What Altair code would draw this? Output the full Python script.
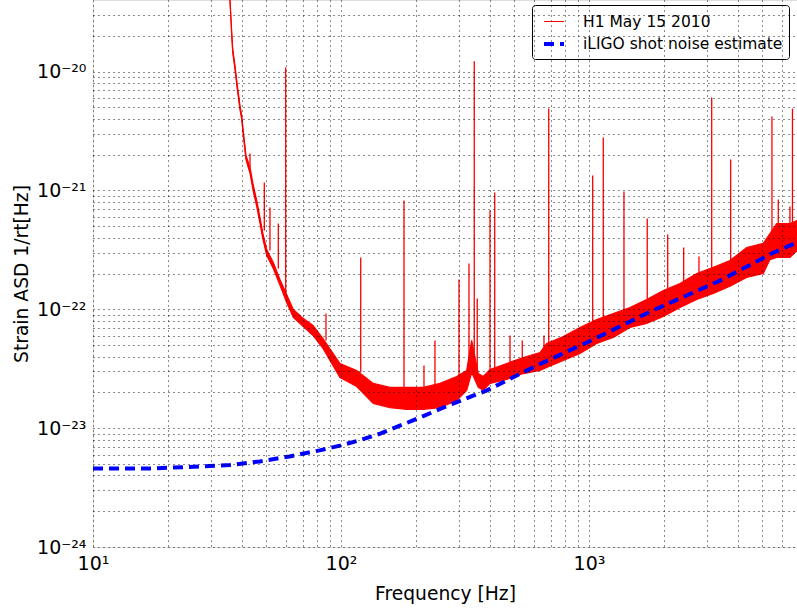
import altair as alt
import pandas as pd

FONT = "DejaVu Sans"

# ---- H1 strain ASD band: frequency [Hz], lower / upper edge
h1_freq = [35.35, 35.68, 36.25, 36.59, 37.38, 38.19, 39.15, 39.78, 40.37, 41.39,
           42.97, 44.31, 45.73, 47.15, 48.35, 50.17, 53.33, 56.75, 60.39, 64.22,
           70.47, 77.13, 84.61, 99.08, 115.7, 134.9, 157.6, 184.1, 214.7, 250.7,
           292.8, 321.3, 336.5, 357.8, 374.8, 398.9, 465.7, 543.5, 634.6, 675.2,
           787.8, 919.8, 1074, 1253, 1463, 1709, 1994, 2328, 2719, 3171,
           3703, 4324, 5044, 5368, 5713, 6464, 6900]
h1_high = [4.90e-20, 4.04e-20, 2.17e-20, 1.561e-20, 1.123e-20, 7.63e-21, 5.18e-21, 4.27e-21, 3.13e-21, 1.97e-21,
           1.56e-21, 1.10e-21, 8.23e-22, 5.92e-22, 4.42e-22, 3.18e-22, 2.48e-22, 1.78e-22, 1.33e-22, 9.96e-23,
           8.37e-23, 7.31e-23, 5.68e-23, 3.50e-23, 3.06e-23, 2.38e-23, 2.20e-23, 2.20e-23, 2.20e-23, 2.38e-23,
           2.72e-23, 3.06e-23, 5.47e-23, 2.88e-23, 2.72e-23, 3.12e-23, 3.50e-23, 3.93e-23, 4.33e-23, 5.16e-23,
           5.90e-23, 7.03e-23, 8.21e-23, 9.22e-23, 1.035e-22, 1.21e-22, 1.44e-22, 1.65e-22, 2.00e-22, 2.25e-22,
           2.57e-22, 3.31e-22, 3.58e-22, 4.34e-22, 5.27e-22, 5.27e-22, 5.58e-22]
h1_low = [4.71e-20, 3.88e-20, 2.01e-20, 1.445e-20, 1.039e-20, 7.06e-21, 4.79e-21, 3.95e-21, 2.90e-21, 1.82e-21,
          1.39e-21, 9.79e-22, 7.32e-22, 5.27e-22, 3.94e-22, 2.83e-22, 2.20e-22, 1.59e-22, 1.14e-22, 8.53e-23,
          7.17e-23, 6.02e-23, 4.68e-23, 2.67e-23, 2.24e-23, 1.61e-23, 1.49e-23, 1.44e-23, 1.44e-23, 1.49e-23,
          1.71e-23, 2.08e-23, 2.94e-23, 2.20e-23, 2.08e-23, 2.38e-23, 2.57e-23, 2.88e-23, 3.06e-23, 3.24e-23,
          3.71e-23, 4.25e-23, 5.16e-23, 5.79e-23, 7.03e-23, 7.60e-23, 8.70e-23, 1.035e-22, 1.21e-22, 1.36e-22,
          1.56e-22, 1.85e-22, 2.00e-22, 2.62e-22, 2.73e-22, 2.73e-22, 3.12e-22]

# ---- narrow spectral lines: frequency [Hz], base level, peak level
line_freq = [42.97, 49.07, 51.72, 55.88, 59.84, 87.0, 120.1, 179.5, 216.1, 239.3,
             299.1, 328.2, 344.7, 354.4, 398.9, 416.8, 480.3, 538.3, 658.5, 688.2,
             1035, 1142, 1384, 1718, 2077, 2409, 2777, 3125, 3727, 5469,
             5798, 6464, 6616]
line_base = [1.56e-21, 4.60e-22, 3.12e-22, 2.20e-22, 1.33e-22, 5.47e-23, 2.94e-23, 2.16e-23, 2.16e-23, 2.29e-23,
             2.62e-23, 2.94e-23, 2.94e-23, 2.77e-23, 2.94e-23, 2.94e-23, 3.37e-23, 3.71e-23, 4.50e-23, 4.50e-23,
             7.31e-23, 8.05e-23, 9.77e-23, 1.19e-22, 1.44e-22, 1.65e-22, 1.92e-22, 2.20e-22, 2.48e-22, 4.18e-22,
             5.07e-22, 5.07e-22, 5.07e-22]
line_peak = [2.04e-21, 1.165e-21, 7.18e-22, 5.27e-22, 1.08e-20, 9.22e-23, 2.73e-22, 8.23e-22, 3.37e-23, 5.47e-23,
             1.78e-22, 2.43e-22, 1.22e-20, 1.23e-22, 6.78e-22, 9.60e-22, 6.02e-23, 5.47e-23, 6.02e-23, 4.88e-21,
             1.335e-21, 2.79e-21, 9.79e-22, 5.80e-22, 4.26e-22, 3.31e-22, 2.78e-22, 6.04e-21, 1.82e-21, 4.18e-21,
             8.38e-22, 7.32e-22, 4.88e-21]

# ---- iLIGO shot noise estimate
shot_freq = [10, 17, 27, 35.7, 47, 62, 82, 100, 119, 144, 195, 283, 388, 617, 981, 1810, 3390, 5550, 6900]
shot_asd = [4.58e-24, 4.58e-24, 4.76e-24, 4.9e-24, 5.25e-24, 5.78e-24, 6.5e-24, 7.16e-24, 7.9e-24, 9.0e-24,
            1.16e-23, 1.61e-23, 2.08e-23, 3.37e-23, 5.26e-23, 9.77e-23, 1.75e-22, 3.0e-22, 3.65e-22]

series_names = ["H1 May 15 2010", "iLIGO shot noise estimate"]

# ---- axes ticks (grid at every minor tick, labels at decades)
x_ticks = [10, 20, 30, 40, 50, 60, 70, 80, 90, 100, 200, 300, 400, 500, 600, 700, 800, 900,
           1000, 2000, 3000, 4000, 5000, 6000]
y_ticks = [m * 1e-24 for m in range(1, 10)] + [m * 1e-23 for m in range(1, 10)] + \
          [m * 1e-22 for m in range(1, 10)] + [m * 1e-21 for m in range(1, 10)] + \
          [1e-20, 2e-20, 3e-20]
x_labels = {10: "10¹", 100: "10²", 1000: "10³"}
y_labels = {-24: "10⁻²⁴", -23: "10⁻²³", -22: "10⁻²²", -21: "10⁻²¹", -20: "10⁻²⁰"}

x_expr = " : ".join(f"datum.value == {k} ? '{v}'" for k, v in x_labels.items()) + " : ''"
y_expr = " : ".join(f"round(log(datum.value) / LN10 * 100) == {k * 100} ? '{v}'"
                    for k, v in y_labels.items()) + " : ''"

band_df = pd.DataFrame({"f": h1_freq, "low": h1_low, "high": h1_high})
spike_df = pd.DataFrame({"f": line_freq, "base": line_base, "peak": line_peak})
center = [(lo * hi) ** 0.5 for lo, hi in zip(h1_low, h1_high)]
lines_df = pd.concat([
    pd.DataFrame({"f": h1_freq, "asd": center, "series": series_names[0]}),
    pd.DataFrame({"f": shot_freq, "asd": shot_asd, "series": series_names[1]}),
])

xscale = alt.Scale(type="log", domain=[10, 6900], nice=False)
yscale = alt.Scale(type="log", domain=[1e-24, 4e-20], nice=False)

axis_common = dict(
    grid=True, gridDash=[1, 4], gridColor="black", gridOpacity=0.9, gridWidth=1,
    ticks=False, domain=False, labelFont=FONT, labelFontSize=19, labelColor="black",
    titleFont=FONT, titleFontSize=18.7, titleFontWeight="normal", titleColor="black",
    labelFlush=False, labelOverlap=False, zindex=1,
)

x_enc = alt.X("f:Q", scale=xscale,
              axis=alt.Axis(values=x_ticks, labelExpr=x_expr, title="Frequency [Hz]",
                            labelPadding=7, titlePadding=11, **axis_common))
y_axis = alt.Axis(values=y_ticks, labelExpr=y_expr, title="Strain ASD 1/rt[Hz]",
                  labelPadding=7, titlePadding=5, **axis_common)

band = alt.Chart(band_df).mark_area(
    fill="#ff0000", stroke="#ff0000", strokeWidth=1.2, clip=True
).encode(
    x=x_enc,
    y=alt.Y("low:Q", scale=yscale, axis=y_axis),
    y2="high:Q",
)

spikes = alt.Chart(spike_df).mark_rule(color="#ff0000", strokeWidth=1.3, clip=True).encode(
    x=alt.X("f:Q", scale=xscale),
    y=alt.Y("base:Q", scale=yscale),
    y2="peak:Q",
)

legend = alt.Legend(
    title=None, orient="none", legendX=439, legendY=5, symbolType="stroke",
    symbolSize=400, labelFont=FONT, labelFontSize=15.5, labelColor="black",
    strokeColor="black", fillColor="white", padding=6, rowPadding=2,
    cornerRadius=3, symbolOffset=4, labelOffset=17, labelLimit=400,
)

lines = alt.Chart(lines_df).mark_line(clip=True, strokeCap="butt").encode(
    x=alt.X("f:Q", scale=xscale),
    y=alt.Y("asd:Q", scale=yscale),
    color=alt.Color("series:N", scale=alt.Scale(domain=series_names, range=["#ff0000", "#0000ff"]),
                    legend=legend),
    strokeDash=alt.StrokeDash("series:N", scale=alt.Scale(domain=series_names, range=[[1, 0], [10, 6]]),
                              legend=legend),
    strokeWidth=alt.StrokeWidth("series:N", scale=alt.Scale(domain=series_names, range=[1, 4]),
                                legend=legend),
    order="f:Q",
)

chart = alt.layer(band, spikes, lines).properties(
    width=704, height=547,
    autosize=alt.AutoSizeParams(type="none"),
    padding={"left": 93, "top": 0, "right": 0, "bottom": 64},
).configure_view(stroke="black", strokeWidth=1.5).configure(background="white")

chart.save("out.html", embed_options={"renderer": "svg", "actions": False})
